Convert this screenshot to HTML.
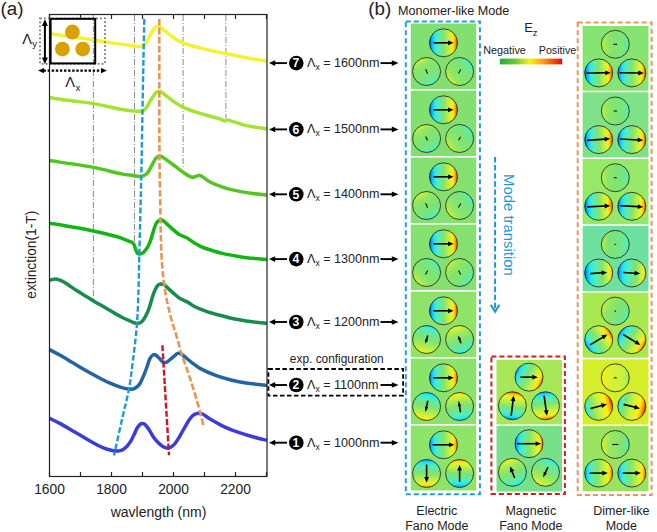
<!DOCTYPE html>
<html><head><meta charset="utf-8"><style>
html,body{margin:0;padding:0;background:#fff;}
svg{display:block;}
text{font-family:"Liberation Sans", sans-serif;}
</style></head><body>
<svg width="657" height="532" viewBox="0 0 657 532">
<defs><linearGradient id="g1" gradientUnits="userSpaceOnUse" x1="429.50" y1="42.80" x2="457.50" y2="42.80"><stop offset="0.000" stop-color="#003ce6"/><stop offset="0.062" stop-color="#0098ff"/><stop offset="0.125" stop-color="#0ecffc"/><stop offset="0.188" stop-color="#23e9eb"/><stop offset="0.250" stop-color="#3feccf"/><stop offset="0.312" stop-color="#54edb7"/><stop offset="0.375" stop-color="#64ea9e"/><stop offset="0.438" stop-color="#72e787"/><stop offset="0.500" stop-color="#80e470"/><stop offset="0.562" stop-color="#95e861"/><stop offset="0.625" stop-color="#abec51"/><stop offset="0.688" stop-color="#c2f140"/><stop offset="0.750" stop-color="#d8f130"/><stop offset="0.812" stop-color="#f2f01e"/><stop offset="0.875" stop-color="#ffd30d"/><stop offset="0.938" stop-color="#f68f00"/><stop offset="1.000" stop-color="#cd3c00"/></linearGradient>
<linearGradient id="g2" gradientUnits="userSpaceOnUse" x1="433.60" y1="83.62" x2="419.60" y2="59.38"><stop offset="0.000" stop-color="#3feccf"/><stop offset="0.062" stop-color="#57edb3"/><stop offset="0.125" stop-color="#65ea9d"/><stop offset="0.188" stop-color="#6ee88d"/><stop offset="0.250" stop-color="#74e683"/><stop offset="0.312" stop-color="#78e67d"/><stop offset="0.375" stop-color="#7be578"/><stop offset="0.438" stop-color="#7ee474"/><stop offset="0.500" stop-color="#80e470"/><stop offset="0.562" stop-color="#83e56d"/><stop offset="0.625" stop-color="#87e56b"/><stop offset="0.688" stop-color="#8ce668"/><stop offset="0.750" stop-color="#92e763"/><stop offset="0.812" stop-color="#9be95c"/><stop offset="0.875" stop-color="#a9ec52"/><stop offset="0.938" stop-color="#bef043"/><stop offset="1.000" stop-color="#d7f131"/></linearGradient>
<linearGradient id="g3" gradientUnits="userSpaceOnUse" x1="471.07" y1="63.47" x2="448.13" y2="79.53"><stop offset="0.000" stop-color="#3feccf"/><stop offset="0.062" stop-color="#57edb3"/><stop offset="0.125" stop-color="#65ea9d"/><stop offset="0.188" stop-color="#6ee88d"/><stop offset="0.250" stop-color="#74e683"/><stop offset="0.312" stop-color="#78e67d"/><stop offset="0.375" stop-color="#7be578"/><stop offset="0.438" stop-color="#7ee474"/><stop offset="0.500" stop-color="#80e470"/><stop offset="0.562" stop-color="#83e56d"/><stop offset="0.625" stop-color="#87e56b"/><stop offset="0.688" stop-color="#8ce668"/><stop offset="0.750" stop-color="#92e763"/><stop offset="0.812" stop-color="#9be95c"/><stop offset="0.875" stop-color="#a9ec52"/><stop offset="0.938" stop-color="#bef043"/><stop offset="1.000" stop-color="#d7f131"/></linearGradient>
<linearGradient id="g4" gradientUnits="userSpaceOnUse" x1="429.50" y1="109.80" x2="457.50" y2="109.80"><stop offset="0.000" stop-color="#003ce6"/><stop offset="0.062" stop-color="#0098ff"/><stop offset="0.125" stop-color="#0ecffc"/><stop offset="0.188" stop-color="#23e9eb"/><stop offset="0.250" stop-color="#3feccf"/><stop offset="0.312" stop-color="#54edb7"/><stop offset="0.375" stop-color="#64ea9e"/><stop offset="0.438" stop-color="#72e787"/><stop offset="0.500" stop-color="#80e470"/><stop offset="0.562" stop-color="#95e861"/><stop offset="0.625" stop-color="#abec51"/><stop offset="0.688" stop-color="#c2f140"/><stop offset="0.750" stop-color="#d8f130"/><stop offset="0.812" stop-color="#f2f01e"/><stop offset="0.875" stop-color="#ffd30d"/><stop offset="0.938" stop-color="#f68f00"/><stop offset="1.000" stop-color="#cd3c00"/></linearGradient>
<linearGradient id="g5" gradientUnits="userSpaceOnUse" x1="433.60" y1="150.62" x2="419.60" y2="126.38"><stop offset="0.000" stop-color="#44edca"/><stop offset="0.062" stop-color="#59ecaf"/><stop offset="0.125" stop-color="#66e99a"/><stop offset="0.188" stop-color="#6fe88c"/><stop offset="0.250" stop-color="#75e682"/><stop offset="0.312" stop-color="#79e67c"/><stop offset="0.375" stop-color="#7ce577"/><stop offset="0.438" stop-color="#7ee474"/><stop offset="0.500" stop-color="#80e470"/><stop offset="0.562" stop-color="#83e56e"/><stop offset="0.625" stop-color="#87e56b"/><stop offset="0.688" stop-color="#8be668"/><stop offset="0.750" stop-color="#91e764"/><stop offset="0.812" stop-color="#99e95e"/><stop offset="0.875" stop-color="#a7ec54"/><stop offset="0.938" stop-color="#baef46"/><stop offset="1.000" stop-color="#d3f234"/></linearGradient>
<linearGradient id="g6" gradientUnits="userSpaceOnUse" x1="471.07" y1="130.47" x2="448.13" y2="146.53"><stop offset="0.000" stop-color="#44edca"/><stop offset="0.062" stop-color="#59ecaf"/><stop offset="0.125" stop-color="#66e99a"/><stop offset="0.188" stop-color="#6fe88c"/><stop offset="0.250" stop-color="#75e682"/><stop offset="0.312" stop-color="#79e67c"/><stop offset="0.375" stop-color="#7ce577"/><stop offset="0.438" stop-color="#7ee474"/><stop offset="0.500" stop-color="#80e470"/><stop offset="0.562" stop-color="#83e56e"/><stop offset="0.625" stop-color="#87e56b"/><stop offset="0.688" stop-color="#8be668"/><stop offset="0.750" stop-color="#91e764"/><stop offset="0.812" stop-color="#99e95e"/><stop offset="0.875" stop-color="#a7ec54"/><stop offset="0.938" stop-color="#baef46"/><stop offset="1.000" stop-color="#d3f234"/></linearGradient>
<linearGradient id="g7" gradientUnits="userSpaceOnUse" x1="429.50" y1="176.80" x2="457.50" y2="176.80"><stop offset="0.000" stop-color="#003ce6"/><stop offset="0.062" stop-color="#0098ff"/><stop offset="0.125" stop-color="#0ecffc"/><stop offset="0.188" stop-color="#23e9eb"/><stop offset="0.250" stop-color="#3feccf"/><stop offset="0.312" stop-color="#54edb7"/><stop offset="0.375" stop-color="#64ea9e"/><stop offset="0.438" stop-color="#72e787"/><stop offset="0.500" stop-color="#80e470"/><stop offset="0.562" stop-color="#95e861"/><stop offset="0.625" stop-color="#abec51"/><stop offset="0.688" stop-color="#c2f140"/><stop offset="0.750" stop-color="#d8f130"/><stop offset="0.812" stop-color="#f2f01e"/><stop offset="0.875" stop-color="#ffd30d"/><stop offset="0.938" stop-color="#f68f00"/><stop offset="1.000" stop-color="#cd3c00"/></linearGradient>
<linearGradient id="g8" gradientUnits="userSpaceOnUse" x1="433.60" y1="217.62" x2="419.60" y2="193.38"><stop offset="0.000" stop-color="#3feccf"/><stop offset="0.062" stop-color="#57edb3"/><stop offset="0.125" stop-color="#65ea9d"/><stop offset="0.188" stop-color="#6ee88d"/><stop offset="0.250" stop-color="#74e683"/><stop offset="0.312" stop-color="#78e67d"/><stop offset="0.375" stop-color="#7be578"/><stop offset="0.438" stop-color="#7ee474"/><stop offset="0.500" stop-color="#80e470"/><stop offset="0.562" stop-color="#83e56d"/><stop offset="0.625" stop-color="#87e56b"/><stop offset="0.688" stop-color="#8ce668"/><stop offset="0.750" stop-color="#92e763"/><stop offset="0.812" stop-color="#9be95c"/><stop offset="0.875" stop-color="#a9ec52"/><stop offset="0.938" stop-color="#bef043"/><stop offset="1.000" stop-color="#d7f131"/></linearGradient>
<linearGradient id="g9" gradientUnits="userSpaceOnUse" x1="471.07" y1="197.47" x2="448.13" y2="213.53"><stop offset="0.000" stop-color="#3feccf"/><stop offset="0.062" stop-color="#57edb3"/><stop offset="0.125" stop-color="#65ea9d"/><stop offset="0.188" stop-color="#6ee88d"/><stop offset="0.250" stop-color="#74e683"/><stop offset="0.312" stop-color="#78e67d"/><stop offset="0.375" stop-color="#7be578"/><stop offset="0.438" stop-color="#7ee474"/><stop offset="0.500" stop-color="#80e470"/><stop offset="0.562" stop-color="#83e56d"/><stop offset="0.625" stop-color="#87e56b"/><stop offset="0.688" stop-color="#8ce668"/><stop offset="0.750" stop-color="#92e763"/><stop offset="0.812" stop-color="#9be95c"/><stop offset="0.875" stop-color="#a9ec52"/><stop offset="0.938" stop-color="#bef043"/><stop offset="1.000" stop-color="#d7f131"/></linearGradient>
<linearGradient id="g10" gradientUnits="userSpaceOnUse" x1="429.50" y1="243.80" x2="457.50" y2="243.80"><stop offset="0.000" stop-color="#003ce6"/><stop offset="0.062" stop-color="#0098ff"/><stop offset="0.125" stop-color="#0ecffc"/><stop offset="0.188" stop-color="#23e9eb"/><stop offset="0.250" stop-color="#3feccf"/><stop offset="0.312" stop-color="#54edb7"/><stop offset="0.375" stop-color="#64ea9e"/><stop offset="0.438" stop-color="#72e787"/><stop offset="0.500" stop-color="#80e470"/><stop offset="0.562" stop-color="#95e861"/><stop offset="0.625" stop-color="#abec51"/><stop offset="0.688" stop-color="#c2f140"/><stop offset="0.750" stop-color="#d8f130"/><stop offset="0.812" stop-color="#f2f01e"/><stop offset="0.875" stop-color="#ffd30d"/><stop offset="0.938" stop-color="#f68f00"/><stop offset="1.000" stop-color="#cd3c00"/></linearGradient>
<linearGradient id="g11" gradientUnits="userSpaceOnUse" x1="436.50" y1="262.60" x2="416.70" y2="282.40"><stop offset="0.000" stop-color="#3feccf"/><stop offset="0.062" stop-color="#57edb3"/><stop offset="0.125" stop-color="#65ea9d"/><stop offset="0.188" stop-color="#6ee88d"/><stop offset="0.250" stop-color="#74e683"/><stop offset="0.312" stop-color="#78e67d"/><stop offset="0.375" stop-color="#7be578"/><stop offset="0.438" stop-color="#7ee474"/><stop offset="0.500" stop-color="#80e470"/><stop offset="0.562" stop-color="#83e56d"/><stop offset="0.625" stop-color="#87e56b"/><stop offset="0.688" stop-color="#8ce668"/><stop offset="0.750" stop-color="#92e763"/><stop offset="0.812" stop-color="#9be95c"/><stop offset="0.875" stop-color="#a9ec52"/><stop offset="0.938" stop-color="#bef043"/><stop offset="1.000" stop-color="#d7f131"/></linearGradient>
<linearGradient id="g12" gradientUnits="userSpaceOnUse" x1="470.32" y1="281.50" x2="448.88" y2="263.50"><stop offset="0.000" stop-color="#3feccf"/><stop offset="0.062" stop-color="#57edb3"/><stop offset="0.125" stop-color="#65ea9d"/><stop offset="0.188" stop-color="#6ee88d"/><stop offset="0.250" stop-color="#74e683"/><stop offset="0.312" stop-color="#78e67d"/><stop offset="0.375" stop-color="#7be578"/><stop offset="0.438" stop-color="#7ee474"/><stop offset="0.500" stop-color="#80e470"/><stop offset="0.562" stop-color="#83e56d"/><stop offset="0.625" stop-color="#87e56b"/><stop offset="0.688" stop-color="#8ce668"/><stop offset="0.750" stop-color="#92e763"/><stop offset="0.812" stop-color="#9be95c"/><stop offset="0.875" stop-color="#a9ec52"/><stop offset="0.938" stop-color="#bef043"/><stop offset="1.000" stop-color="#d7f131"/></linearGradient>
<linearGradient id="g13" gradientUnits="userSpaceOnUse" x1="429.50" y1="310.80" x2="457.50" y2="310.80"><stop offset="0.000" stop-color="#003ce6"/><stop offset="0.062" stop-color="#029ffe"/><stop offset="0.125" stop-color="#0fd4fb"/><stop offset="0.188" stop-color="#26eae8"/><stop offset="0.250" stop-color="#41edcd"/><stop offset="0.312" stop-color="#55edb5"/><stop offset="0.375" stop-color="#64ea9d"/><stop offset="0.438" stop-color="#72e786"/><stop offset="0.500" stop-color="#80e470"/><stop offset="0.562" stop-color="#94e861"/><stop offset="0.625" stop-color="#a9ec52"/><stop offset="0.688" stop-color="#c0f042"/><stop offset="0.750" stop-color="#d6f232"/><stop offset="0.812" stop-color="#eef120"/><stop offset="0.875" stop-color="#ffd90e"/><stop offset="0.938" stop-color="#fb9900"/><stop offset="1.000" stop-color="#cd3c00"/></linearGradient>
<linearGradient id="g14" gradientUnits="userSpaceOnUse" x1="430.46" y1="326.04" x2="422.74" y2="352.96"><stop offset="0.000" stop-color="#14e8fa"/><stop offset="0.062" stop-color="#33ebdb"/><stop offset="0.125" stop-color="#49edc5"/><stop offset="0.188" stop-color="#58ecb0"/><stop offset="0.250" stop-color="#63ea9f"/><stop offset="0.312" stop-color="#6be892"/><stop offset="0.375" stop-color="#73e786"/><stop offset="0.438" stop-color="#79e57b"/><stop offset="0.500" stop-color="#80e470"/><stop offset="0.562" stop-color="#8ae669"/><stop offset="0.625" stop-color="#94e862"/><stop offset="0.688" stop-color="#9fea5a"/><stop offset="0.750" stop-color="#acec50"/><stop offset="0.812" stop-color="#bbf045"/><stop offset="0.875" stop-color="#cef238"/><stop offset="0.938" stop-color="#e3f128"/><stop offset="1.000" stop-color="#fff014"/></linearGradient>
<linearGradient id="g15" gradientUnits="userSpaceOnUse" x1="464.39" y1="352.66" x2="454.81" y2="326.34"><stop offset="0.000" stop-color="#20e9ee"/><stop offset="0.062" stop-color="#3cecd2"/><stop offset="0.125" stop-color="#50eebe"/><stop offset="0.188" stop-color="#5cebaa"/><stop offset="0.250" stop-color="#66e99b"/><stop offset="0.312" stop-color="#6de88e"/><stop offset="0.375" stop-color="#74e784"/><stop offset="0.438" stop-color="#7ae57a"/><stop offset="0.500" stop-color="#80e470"/><stop offset="0.562" stop-color="#89e66a"/><stop offset="0.625" stop-color="#92e863"/><stop offset="0.688" stop-color="#9ce95c"/><stop offset="0.750" stop-color="#a7ec54"/><stop offset="0.812" stop-color="#b5ee49"/><stop offset="0.875" stop-color="#c8f23c"/><stop offset="0.938" stop-color="#dbf12e"/><stop offset="1.000" stop-color="#f4f01c"/></linearGradient>
<linearGradient id="g16" gradientUnits="userSpaceOnUse" x1="429.50" y1="377.80" x2="457.50" y2="377.80"><stop offset="0.000" stop-color="#0042e8"/><stop offset="0.062" stop-color="#04a8fe"/><stop offset="0.125" stop-color="#11dbfb"/><stop offset="0.188" stop-color="#2aeae4"/><stop offset="0.250" stop-color="#44edca"/><stop offset="0.312" stop-color="#57ecb2"/><stop offset="0.375" stop-color="#66e99b"/><stop offset="0.438" stop-color="#73e785"/><stop offset="0.500" stop-color="#80e470"/><stop offset="0.562" stop-color="#94e862"/><stop offset="0.625" stop-color="#a8ec53"/><stop offset="0.688" stop-color="#bdf044"/><stop offset="0.750" stop-color="#d3f234"/><stop offset="0.812" stop-color="#eaf123"/><stop offset="0.875" stop-color="#ffe110"/><stop offset="0.938" stop-color="#ffa501"/><stop offset="1.000" stop-color="#d04200"/></linearGradient>
<linearGradient id="g17" gradientUnits="userSpaceOnUse" x1="429.51" y1="392.81" x2="423.69" y2="420.19"><stop offset="0.000" stop-color="#09b9fd"/><stop offset="0.062" stop-color="#14e8fa"/><stop offset="0.125" stop-color="#33ebdb"/><stop offset="0.188" stop-color="#49edc5"/><stop offset="0.250" stop-color="#59ecb0"/><stop offset="0.312" stop-color="#64ea9d"/><stop offset="0.375" stop-color="#6ee88d"/><stop offset="0.438" stop-color="#77e67e"/><stop offset="0.500" stop-color="#80e470"/><stop offset="0.562" stop-color="#8de766"/><stop offset="0.625" stop-color="#9be95d"/><stop offset="0.688" stop-color="#aaec52"/><stop offset="0.750" stop-color="#bbef46"/><stop offset="0.812" stop-color="#cef238"/><stop offset="0.875" stop-color="#e3f128"/><stop offset="0.938" stop-color="#fff014"/><stop offset="1.000" stop-color="#ffb906"/></linearGradient>
<linearGradient id="g18" gradientUnits="userSpaceOnUse" x1="461.79" y1="420.33" x2="457.41" y2="392.67"><stop offset="0.000" stop-color="#0cc8fc"/><stop offset="0.062" stop-color="#1ee9f0"/><stop offset="0.125" stop-color="#3aecd4"/><stop offset="0.188" stop-color="#4feebf"/><stop offset="0.250" stop-color="#5cebaa"/><stop offset="0.312" stop-color="#67e999"/><stop offset="0.375" stop-color="#70e78b"/><stop offset="0.438" stop-color="#78e67d"/><stop offset="0.500" stop-color="#80e470"/><stop offset="0.562" stop-color="#8ce667"/><stop offset="0.625" stop-color="#99e95e"/><stop offset="0.688" stop-color="#a6eb54"/><stop offset="0.750" stop-color="#b6ee49"/><stop offset="0.812" stop-color="#c9f23b"/><stop offset="0.875" stop-color="#dcf12d"/><stop offset="0.938" stop-color="#f6f01b"/><stop offset="1.000" stop-color="#ffcb0b"/></linearGradient>
<linearGradient id="g19" gradientUnits="userSpaceOnUse" x1="429.50" y1="444.80" x2="457.50" y2="444.80"><stop offset="0.000" stop-color="#0052ec"/><stop offset="0.062" stop-color="#06affd"/><stop offset="0.125" stop-color="#12e0fa"/><stop offset="0.188" stop-color="#2eebe0"/><stop offset="0.250" stop-color="#47edc7"/><stop offset="0.312" stop-color="#59ecb0"/><stop offset="0.375" stop-color="#67e999"/><stop offset="0.438" stop-color="#73e784"/><stop offset="0.500" stop-color="#80e470"/><stop offset="0.562" stop-color="#93e862"/><stop offset="0.625" stop-color="#a6eb54"/><stop offset="0.688" stop-color="#bbef45"/><stop offset="0.750" stop-color="#d0f236"/><stop offset="0.812" stop-color="#e7f125"/><stop offset="0.875" stop-color="#ffe712"/><stop offset="0.938" stop-color="#ffad03"/><stop offset="1.000" stop-color="#d74f00"/></linearGradient>
<linearGradient id="g20" gradientUnits="userSpaceOnUse" x1="426.60" y1="459.50" x2="426.60" y2="487.50"><stop offset="0.000" stop-color="#0093fe"/><stop offset="0.062" stop-color="#0dccfc"/><stop offset="0.125" stop-color="#21e9ed"/><stop offset="0.188" stop-color="#3cecd2"/><stop offset="0.250" stop-color="#51eebc"/><stop offset="0.312" stop-color="#5feba6"/><stop offset="0.375" stop-color="#6ae893"/><stop offset="0.438" stop-color="#75e681"/><stop offset="0.500" stop-color="#80e470"/><stop offset="0.562" stop-color="#90e764"/><stop offset="0.625" stop-color="#a0ea59"/><stop offset="0.688" stop-color="#b2ee4c"/><stop offset="0.750" stop-color="#c6f23d"/><stop offset="0.812" stop-color="#daf12f"/><stop offset="0.875" stop-color="#f3f01c"/><stop offset="0.938" stop-color="#ffd00c"/><stop offset="1.000" stop-color="#f48900"/></linearGradient>
<linearGradient id="g21" gradientUnits="userSpaceOnUse" x1="459.60" y1="487.50" x2="459.60" y2="459.50"><stop offset="0.000" stop-color="#0093fe"/><stop offset="0.062" stop-color="#0dccfc"/><stop offset="0.125" stop-color="#21e9ed"/><stop offset="0.188" stop-color="#3cecd2"/><stop offset="0.250" stop-color="#51eebc"/><stop offset="0.312" stop-color="#5feba6"/><stop offset="0.375" stop-color="#6ae893"/><stop offset="0.438" stop-color="#75e681"/><stop offset="0.500" stop-color="#80e470"/><stop offset="0.562" stop-color="#90e764"/><stop offset="0.625" stop-color="#a0ea59"/><stop offset="0.688" stop-color="#b2ee4c"/><stop offset="0.750" stop-color="#c6f23d"/><stop offset="0.812" stop-color="#daf12f"/><stop offset="0.875" stop-color="#f3f01c"/><stop offset="0.938" stop-color="#ffd00c"/><stop offset="1.000" stop-color="#f48900"/></linearGradient>
<linearGradient id="g22" gradientUnits="userSpaceOnUse" x1="629.30" y1="44.30" x2="601.30" y2="44.30"><stop offset="0.000" stop-color="#50eebe"/><stop offset="0.062" stop-color="#60eba4"/><stop offset="0.125" stop-color="#6be893"/><stop offset="0.188" stop-color="#72e787"/><stop offset="0.250" stop-color="#77e67f"/><stop offset="0.312" stop-color="#7ae57a"/><stop offset="0.375" stop-color="#7ce576"/><stop offset="0.438" stop-color="#7ee473"/><stop offset="0.500" stop-color="#80e470"/><stop offset="0.562" stop-color="#83e56e"/><stop offset="0.625" stop-color="#86e56c"/><stop offset="0.688" stop-color="#89e669"/><stop offset="0.750" stop-color="#8ee766"/><stop offset="0.812" stop-color="#95e861"/><stop offset="0.875" stop-color="#a0ea59"/><stop offset="0.938" stop-color="#b0ed4d"/><stop offset="1.000" stop-color="#c8f23c"/></linearGradient>
<linearGradient id="g23" gradientUnits="userSpaceOnUse" x1="584.70" y1="73.14" x2="612.70" y2="72.66"><stop offset="0.000" stop-color="#003ce6"/><stop offset="0.062" stop-color="#0098ff"/><stop offset="0.125" stop-color="#0ecffc"/><stop offset="0.188" stop-color="#23e9eb"/><stop offset="0.250" stop-color="#3feccf"/><stop offset="0.312" stop-color="#54edb7"/><stop offset="0.375" stop-color="#64ea9e"/><stop offset="0.438" stop-color="#72e787"/><stop offset="0.500" stop-color="#80e470"/><stop offset="0.562" stop-color="#95e861"/><stop offset="0.625" stop-color="#abec51"/><stop offset="0.688" stop-color="#c2f140"/><stop offset="0.750" stop-color="#d8f130"/><stop offset="0.812" stop-color="#f2f01e"/><stop offset="0.875" stop-color="#ffd30d"/><stop offset="0.938" stop-color="#f68f00"/><stop offset="1.000" stop-color="#cd3c00"/></linearGradient>
<linearGradient id="g24" gradientUnits="userSpaceOnUse" x1="617.80" y1="72.66" x2="645.80" y2="73.14"><stop offset="0.000" stop-color="#003ce6"/><stop offset="0.062" stop-color="#03a3fe"/><stop offset="0.125" stop-color="#10d8fb"/><stop offset="0.188" stop-color="#28eae6"/><stop offset="0.250" stop-color="#43edcb"/><stop offset="0.312" stop-color="#56edb4"/><stop offset="0.375" stop-color="#65ea9c"/><stop offset="0.438" stop-color="#73e786"/><stop offset="0.500" stop-color="#80e470"/><stop offset="0.562" stop-color="#94e862"/><stop offset="0.625" stop-color="#a8ec53"/><stop offset="0.688" stop-color="#bef043"/><stop offset="0.750" stop-color="#d4f233"/><stop offset="0.812" stop-color="#ecf121"/><stop offset="0.875" stop-color="#ffdd0f"/><stop offset="0.938" stop-color="#ffa000"/><stop offset="1.000" stop-color="#cd3c00"/></linearGradient>
<linearGradient id="g25" gradientUnits="userSpaceOnUse" x1="629.30" y1="111.00" x2="601.30" y2="111.00"><stop offset="0.000" stop-color="#50eebe"/><stop offset="0.062" stop-color="#60eba4"/><stop offset="0.125" stop-color="#6be893"/><stop offset="0.188" stop-color="#72e787"/><stop offset="0.250" stop-color="#77e67f"/><stop offset="0.312" stop-color="#7ae57a"/><stop offset="0.375" stop-color="#7ce576"/><stop offset="0.438" stop-color="#7ee473"/><stop offset="0.500" stop-color="#80e470"/><stop offset="0.562" stop-color="#83e56e"/><stop offset="0.625" stop-color="#86e56c"/><stop offset="0.688" stop-color="#89e669"/><stop offset="0.750" stop-color="#8ee766"/><stop offset="0.812" stop-color="#95e861"/><stop offset="0.875" stop-color="#a0ea59"/><stop offset="0.938" stop-color="#b0ed4d"/><stop offset="1.000" stop-color="#c8f23c"/></linearGradient>
<linearGradient id="g26" gradientUnits="userSpaceOnUse" x1="584.73" y1="140.58" x2="612.67" y2="138.62"><stop offset="0.000" stop-color="#003ce6"/><stop offset="0.062" stop-color="#0098ff"/><stop offset="0.125" stop-color="#0ecffc"/><stop offset="0.188" stop-color="#23e9eb"/><stop offset="0.250" stop-color="#3feccf"/><stop offset="0.312" stop-color="#54edb7"/><stop offset="0.375" stop-color="#64ea9e"/><stop offset="0.438" stop-color="#72e787"/><stop offset="0.500" stop-color="#80e470"/><stop offset="0.562" stop-color="#95e861"/><stop offset="0.625" stop-color="#abec51"/><stop offset="0.688" stop-color="#c2f140"/><stop offset="0.750" stop-color="#d8f130"/><stop offset="0.812" stop-color="#f2f01e"/><stop offset="0.875" stop-color="#ffd30d"/><stop offset="0.938" stop-color="#f68f00"/><stop offset="1.000" stop-color="#cd3c00"/></linearGradient>
<linearGradient id="g27" gradientUnits="userSpaceOnUse" x1="617.82" y1="138.87" x2="645.78" y2="140.33"><stop offset="0.000" stop-color="#003ce6"/><stop offset="0.062" stop-color="#03a3fe"/><stop offset="0.125" stop-color="#10d8fb"/><stop offset="0.188" stop-color="#28eae6"/><stop offset="0.250" stop-color="#43edcb"/><stop offset="0.312" stop-color="#56edb4"/><stop offset="0.375" stop-color="#65ea9c"/><stop offset="0.438" stop-color="#73e786"/><stop offset="0.500" stop-color="#80e470"/><stop offset="0.562" stop-color="#94e862"/><stop offset="0.625" stop-color="#a8ec53"/><stop offset="0.688" stop-color="#bef043"/><stop offset="0.750" stop-color="#d4f233"/><stop offset="0.812" stop-color="#ecf121"/><stop offset="0.875" stop-color="#ffdd0f"/><stop offset="0.938" stop-color="#ffa000"/><stop offset="1.000" stop-color="#cd3c00"/></linearGradient>
<linearGradient id="g28" gradientUnits="userSpaceOnUse" x1="629.30" y1="177.70" x2="601.30" y2="177.70"><stop offset="0.000" stop-color="#50eebe"/><stop offset="0.062" stop-color="#60eba4"/><stop offset="0.125" stop-color="#6be893"/><stop offset="0.188" stop-color="#72e787"/><stop offset="0.250" stop-color="#77e67f"/><stop offset="0.312" stop-color="#7ae57a"/><stop offset="0.375" stop-color="#7ce576"/><stop offset="0.438" stop-color="#7ee473"/><stop offset="0.500" stop-color="#80e470"/><stop offset="0.562" stop-color="#83e56e"/><stop offset="0.625" stop-color="#86e56c"/><stop offset="0.688" stop-color="#89e669"/><stop offset="0.750" stop-color="#8ee766"/><stop offset="0.812" stop-color="#95e861"/><stop offset="0.875" stop-color="#a0ea59"/><stop offset="0.938" stop-color="#b0ed4d"/><stop offset="1.000" stop-color="#c8f23c"/></linearGradient>
<linearGradient id="g29" gradientUnits="userSpaceOnUse" x1="584.72" y1="207.03" x2="612.68" y2="205.57"><stop offset="0.000" stop-color="#003ce6"/><stop offset="0.062" stop-color="#0098ff"/><stop offset="0.125" stop-color="#0ecffc"/><stop offset="0.188" stop-color="#23e9eb"/><stop offset="0.250" stop-color="#3feccf"/><stop offset="0.312" stop-color="#54edb7"/><stop offset="0.375" stop-color="#64ea9e"/><stop offset="0.438" stop-color="#72e787"/><stop offset="0.500" stop-color="#80e470"/><stop offset="0.562" stop-color="#95e861"/><stop offset="0.625" stop-color="#abec51"/><stop offset="0.688" stop-color="#c2f140"/><stop offset="0.750" stop-color="#d8f130"/><stop offset="0.812" stop-color="#f2f01e"/><stop offset="0.875" stop-color="#ffd30d"/><stop offset="0.938" stop-color="#f68f00"/><stop offset="1.000" stop-color="#cd3c00"/></linearGradient>
<linearGradient id="g30" gradientUnits="userSpaceOnUse" x1="617.82" y1="205.57" x2="645.78" y2="207.03"><stop offset="0.000" stop-color="#003ce6"/><stop offset="0.062" stop-color="#03a3fe"/><stop offset="0.125" stop-color="#10d8fb"/><stop offset="0.188" stop-color="#28eae6"/><stop offset="0.250" stop-color="#43edcb"/><stop offset="0.312" stop-color="#56edb4"/><stop offset="0.375" stop-color="#65ea9c"/><stop offset="0.438" stop-color="#73e786"/><stop offset="0.500" stop-color="#80e470"/><stop offset="0.562" stop-color="#94e862"/><stop offset="0.625" stop-color="#a8ec53"/><stop offset="0.688" stop-color="#bef043"/><stop offset="0.750" stop-color="#d4f233"/><stop offset="0.812" stop-color="#ecf121"/><stop offset="0.875" stop-color="#ffdd0f"/><stop offset="0.938" stop-color="#ffa000"/><stop offset="1.000" stop-color="#cd3c00"/></linearGradient>
<linearGradient id="g31" gradientUnits="userSpaceOnUse" x1="629.30" y1="244.40" x2="601.30" y2="244.40"><stop offset="0.000" stop-color="#38ecd6"/><stop offset="0.062" stop-color="#50eebe"/><stop offset="0.125" stop-color="#5deba9"/><stop offset="0.188" stop-color="#65ea9b"/><stop offset="0.250" stop-color="#6be892"/><stop offset="0.312" stop-color="#6fe88b"/><stop offset="0.375" stop-color="#72e787"/><stop offset="0.438" stop-color="#74e683"/><stop offset="0.500" stop-color="#76e680"/><stop offset="0.562" stop-color="#79e67c"/><stop offset="0.625" stop-color="#7be578"/><stop offset="0.688" stop-color="#7ee474"/><stop offset="0.750" stop-color="#82e46e"/><stop offset="0.812" stop-color="#8be668"/><stop offset="0.875" stop-color="#98e95f"/><stop offset="0.938" stop-color="#aced50"/><stop offset="1.000" stop-color="#c8f23c"/></linearGradient>
<linearGradient id="g32" gradientUnits="userSpaceOnUse" x1="584.73" y1="273.98" x2="612.67" y2="272.02"><stop offset="0.000" stop-color="#003ce6"/><stop offset="0.062" stop-color="#0199ff"/><stop offset="0.125" stop-color="#0cc8fc"/><stop offset="0.188" stop-color="#17e8f7"/><stop offset="0.250" stop-color="#2eebe0"/><stop offset="0.312" stop-color="#41eccd"/><stop offset="0.375" stop-color="#51eebc"/><stop offset="0.438" stop-color="#5deba9"/><stop offset="0.500" stop-color="#69e995"/><stop offset="0.562" stop-color="#75e682"/><stop offset="0.625" stop-color="#81e46f"/><stop offset="0.688" stop-color="#95e861"/><stop offset="0.750" stop-color="#acec50"/><stop offset="0.812" stop-color="#c8f23c"/><stop offset="0.875" stop-color="#e4f128"/><stop offset="0.938" stop-color="#ffe110"/><stop offset="1.000" stop-color="#fa9600"/></linearGradient>
<linearGradient id="g33" gradientUnits="userSpaceOnUse" x1="617.82" y1="272.27" x2="645.78" y2="273.73"><stop offset="0.000" stop-color="#004eeb"/><stop offset="0.062" stop-color="#04a5fe"/><stop offset="0.125" stop-color="#0ed0fb"/><stop offset="0.188" stop-color="#1ce9f2"/><stop offset="0.250" stop-color="#32ebdc"/><stop offset="0.312" stop-color="#44edca"/><stop offset="0.375" stop-color="#53edba"/><stop offset="0.438" stop-color="#5eeba7"/><stop offset="0.500" stop-color="#69e995"/><stop offset="0.562" stop-color="#74e683"/><stop offset="0.625" stop-color="#7fe471"/><stop offset="0.688" stop-color="#91e763"/><stop offset="0.750" stop-color="#a7ec54"/><stop offset="0.812" stop-color="#c1f141"/><stop offset="0.875" stop-color="#ddf12d"/><stop offset="0.938" stop-color="#ffee14"/><stop offset="1.000" stop-color="#ffaa02"/></linearGradient>
<linearGradient id="g34" gradientUnits="userSpaceOnUse" x1="627.42" y1="318.10" x2="603.18" y2="304.10"><stop offset="0.000" stop-color="#44edca"/><stop offset="0.062" stop-color="#59ecaf"/><stop offset="0.125" stop-color="#66e99a"/><stop offset="0.188" stop-color="#6fe88c"/><stop offset="0.250" stop-color="#75e682"/><stop offset="0.312" stop-color="#79e67c"/><stop offset="0.375" stop-color="#7ce577"/><stop offset="0.438" stop-color="#7ee474"/><stop offset="0.500" stop-color="#80e470"/><stop offset="0.562" stop-color="#83e56e"/><stop offset="0.625" stop-color="#87e56b"/><stop offset="0.688" stop-color="#8be668"/><stop offset="0.750" stop-color="#91e764"/><stop offset="0.812" stop-color="#99e95e"/><stop offset="0.875" stop-color="#a7ec54"/><stop offset="0.938" stop-color="#baef46"/><stop offset="1.000" stop-color="#d3f234"/></linearGradient>
<linearGradient id="g35" gradientUnits="userSpaceOnUse" x1="586.70" y1="346.91" x2="610.70" y2="332.49"><stop offset="0.000" stop-color="#0068f2"/><stop offset="0.062" stop-color="#09bcfd"/><stop offset="0.125" stop-color="#19e9f5"/><stop offset="0.188" stop-color="#3aecd4"/><stop offset="0.250" stop-color="#52eeba"/><stop offset="0.312" stop-color="#62eaa0"/><stop offset="0.375" stop-color="#70e78a"/><stop offset="0.438" stop-color="#7de575"/><stop offset="0.500" stop-color="#8ee766"/><stop offset="0.562" stop-color="#a1ea58"/><stop offset="0.625" stop-color="#b5ee4a"/><stop offset="0.688" stop-color="#c9f23b"/><stop offset="0.750" stop-color="#dbf12e"/><stop offset="0.812" stop-color="#f2f01d"/><stop offset="0.875" stop-color="#ffd70e"/><stop offset="0.938" stop-color="#fd9c00"/><stop offset="1.000" stop-color="#cd3c00"/></linearGradient>
<linearGradient id="g36" gradientUnits="userSpaceOnUse" x1="619.80" y1="332.49" x2="643.80" y2="346.91"><stop offset="0.000" stop-color="#0068f2"/><stop offset="0.062" stop-color="#09bcfd"/><stop offset="0.125" stop-color="#19e9f5"/><stop offset="0.188" stop-color="#3aecd4"/><stop offset="0.250" stop-color="#52eeba"/><stop offset="0.312" stop-color="#62eaa0"/><stop offset="0.375" stop-color="#70e78a"/><stop offset="0.438" stop-color="#7de575"/><stop offset="0.500" stop-color="#8ee766"/><stop offset="0.562" stop-color="#a1ea58"/><stop offset="0.625" stop-color="#b5ee4a"/><stop offset="0.688" stop-color="#c9f23b"/><stop offset="0.750" stop-color="#dbf12e"/><stop offset="0.812" stop-color="#f2f01d"/><stop offset="0.875" stop-color="#ffd70e"/><stop offset="0.938" stop-color="#fd9c00"/><stop offset="1.000" stop-color="#cd3c00"/></linearGradient>
<linearGradient id="g37" gradientUnits="userSpaceOnUse" x1="629.30" y1="377.80" x2="601.30" y2="377.80"><stop offset="0.000" stop-color="#8ee766"/><stop offset="0.062" stop-color="#a6eb55"/><stop offset="0.125" stop-color="#b6ef49"/><stop offset="0.188" stop-color="#c1f141"/><stop offset="0.250" stop-color="#c8f23c"/><stop offset="0.312" stop-color="#ccf239"/><stop offset="0.375" stop-color="#cff237"/><stop offset="0.438" stop-color="#d1f236"/><stop offset="0.500" stop-color="#d3f234"/><stop offset="0.562" stop-color="#d5f232"/><stop offset="0.625" stop-color="#d7f131"/><stop offset="0.688" stop-color="#daf12f"/><stop offset="0.750" stop-color="#def12c"/><stop offset="0.812" stop-color="#e3f128"/><stop offset="0.875" stop-color="#ecf122"/><stop offset="0.938" stop-color="#f8f019"/><stop offset="1.000" stop-color="#ffe010"/></linearGradient>
<linearGradient id="g38" gradientUnits="userSpaceOnUse" x1="585.12" y1="409.79" x2="612.28" y2="403.01"><stop offset="0.000" stop-color="#0ecffc"/><stop offset="0.062" stop-color="#32ebdc"/><stop offset="0.125" stop-color="#57edb3"/><stop offset="0.188" stop-color="#6de88e"/><stop offset="0.250" stop-color="#7fe471"/><stop offset="0.312" stop-color="#94e862"/><stop offset="0.375" stop-color="#a6eb54"/><stop offset="0.438" stop-color="#b7ef48"/><stop offset="0.500" stop-color="#c8f23c"/><stop offset="0.562" stop-color="#d5f233"/><stop offset="0.625" stop-color="#e2f129"/><stop offset="0.688" stop-color="#f0f11f"/><stop offset="0.750" stop-color="#ffef14"/><stop offset="0.812" stop-color="#ffd10c"/><stop offset="0.875" stop-color="#ffab03"/><stop offset="0.938" stop-color="#e66e00"/><stop offset="1.000" stop-color="#cd3c00"/></linearGradient>
<linearGradient id="g39" gradientUnits="userSpaceOnUse" x1="618.22" y1="403.01" x2="645.38" y2="409.79"><stop offset="0.000" stop-color="#0ecffc"/><stop offset="0.062" stop-color="#32ebdc"/><stop offset="0.125" stop-color="#57edb3"/><stop offset="0.188" stop-color="#6de88e"/><stop offset="0.250" stop-color="#7fe471"/><stop offset="0.312" stop-color="#94e862"/><stop offset="0.375" stop-color="#a6eb54"/><stop offset="0.438" stop-color="#b7ef48"/><stop offset="0.500" stop-color="#c8f23c"/><stop offset="0.562" stop-color="#d5f233"/><stop offset="0.625" stop-color="#e2f129"/><stop offset="0.688" stop-color="#f0f11f"/><stop offset="0.750" stop-color="#ffef14"/><stop offset="0.812" stop-color="#ffd10c"/><stop offset="0.875" stop-color="#ffab03"/><stop offset="0.938" stop-color="#e66e00"/><stop offset="1.000" stop-color="#cd3c00"/></linearGradient>
<linearGradient id="g40" gradientUnits="userSpaceOnUse" x1="629.30" y1="444.50" x2="601.30" y2="444.50"><stop offset="0.000" stop-color="#44edca"/><stop offset="0.062" stop-color="#5cebaa"/><stop offset="0.125" stop-color="#6ce891"/><stop offset="0.188" stop-color="#76e681"/><stop offset="0.250" stop-color="#7de576"/><stop offset="0.312" stop-color="#82e46f"/><stop offset="0.375" stop-color="#87e56b"/><stop offset="0.438" stop-color="#8be668"/><stop offset="0.500" stop-color="#8ee766"/><stop offset="0.562" stop-color="#92e863"/><stop offset="0.625" stop-color="#96e860"/><stop offset="0.688" stop-color="#9be95c"/><stop offset="0.750" stop-color="#a2eb57"/><stop offset="0.812" stop-color="#aced50"/><stop offset="0.875" stop-color="#bbf045"/><stop offset="0.938" stop-color="#d0f236"/><stop offset="1.000" stop-color="#e9f124"/></linearGradient>
<linearGradient id="g41" gradientUnits="userSpaceOnUse" x1="584.70" y1="473.10" x2="612.70" y2="473.10"><stop offset="0.000" stop-color="#0081f9"/><stop offset="0.062" stop-color="#0cc8fc"/><stop offset="0.125" stop-color="#21e9ed"/><stop offset="0.188" stop-color="#3feccf"/><stop offset="0.250" stop-color="#55edb5"/><stop offset="0.312" stop-color="#65ea9d"/><stop offset="0.375" stop-color="#72e787"/><stop offset="0.438" stop-color="#7ee474"/><stop offset="0.500" stop-color="#8ee766"/><stop offset="0.562" stop-color="#a0ea59"/><stop offset="0.625" stop-color="#b2ee4c"/><stop offset="0.688" stop-color="#c6f23e"/><stop offset="0.750" stop-color="#d8f131"/><stop offset="0.812" stop-color="#edf121"/><stop offset="0.875" stop-color="#ffe110"/><stop offset="0.938" stop-color="#ffaa03"/><stop offset="1.000" stop-color="#d85200"/></linearGradient>
<linearGradient id="g42" gradientUnits="userSpaceOnUse" x1="617.80" y1="473.10" x2="645.80" y2="473.10"><stop offset="0.000" stop-color="#0081f9"/><stop offset="0.062" stop-color="#0cc8fc"/><stop offset="0.125" stop-color="#21e9ed"/><stop offset="0.188" stop-color="#3feccf"/><stop offset="0.250" stop-color="#55edb5"/><stop offset="0.312" stop-color="#65ea9d"/><stop offset="0.375" stop-color="#72e787"/><stop offset="0.438" stop-color="#7ee474"/><stop offset="0.500" stop-color="#8ee766"/><stop offset="0.562" stop-color="#a0ea59"/><stop offset="0.625" stop-color="#b2ee4c"/><stop offset="0.688" stop-color="#c6f23e"/><stop offset="0.750" stop-color="#d8f131"/><stop offset="0.812" stop-color="#edf121"/><stop offset="0.875" stop-color="#ffe110"/><stop offset="0.938" stop-color="#ffaa03"/><stop offset="1.000" stop-color="#d85200"/></linearGradient>
<linearGradient id="g43" gradientUnits="userSpaceOnUse" x1="516.31" y1="371.23" x2="541.69" y2="383.07"><stop offset="0.000" stop-color="#0081f9"/><stop offset="0.062" stop-color="#0cc8fc"/><stop offset="0.125" stop-color="#21e9ed"/><stop offset="0.188" stop-color="#3feccf"/><stop offset="0.250" stop-color="#55edb5"/><stop offset="0.312" stop-color="#65ea9d"/><stop offset="0.375" stop-color="#72e787"/><stop offset="0.438" stop-color="#7ee474"/><stop offset="0.500" stop-color="#8ee766"/><stop offset="0.562" stop-color="#a0ea59"/><stop offset="0.625" stop-color="#b2ee4c"/><stop offset="0.688" stop-color="#c6f23e"/><stop offset="0.750" stop-color="#d8f131"/><stop offset="0.812" stop-color="#edf121"/><stop offset="0.875" stop-color="#ffe110"/><stop offset="0.938" stop-color="#ffaa03"/><stop offset="1.000" stop-color="#d85200"/></linearGradient>
<linearGradient id="g44" gradientUnits="userSpaceOnUse" x1="510.69" y1="419.65" x2="514.11" y2="391.85"><stop offset="0.000" stop-color="#0068f2"/><stop offset="0.062" stop-color="#09bcfd"/><stop offset="0.125" stop-color="#19e9f5"/><stop offset="0.188" stop-color="#3aecd4"/><stop offset="0.250" stop-color="#52eeba"/><stop offset="0.312" stop-color="#62eaa0"/><stop offset="0.375" stop-color="#70e78a"/><stop offset="0.438" stop-color="#7de575"/><stop offset="0.500" stop-color="#8ee766"/><stop offset="0.562" stop-color="#a1ea58"/><stop offset="0.625" stop-color="#b5ee4a"/><stop offset="0.688" stop-color="#c9f23b"/><stop offset="0.750" stop-color="#dbf12e"/><stop offset="0.812" stop-color="#f2f01d"/><stop offset="0.875" stop-color="#ffd70e"/><stop offset="0.938" stop-color="#fd9c00"/><stop offset="1.000" stop-color="#cd3c00"/></linearGradient>
<linearGradient id="g45" gradientUnits="userSpaceOnUse" x1="543.55" y1="391.89" x2="547.45" y2="419.61"><stop offset="0.000" stop-color="#0081f9"/><stop offset="0.062" stop-color="#0cc8fc"/><stop offset="0.125" stop-color="#21e9ed"/><stop offset="0.188" stop-color="#3feccf"/><stop offset="0.250" stop-color="#55edb5"/><stop offset="0.312" stop-color="#65ea9d"/><stop offset="0.375" stop-color="#72e787"/><stop offset="0.438" stop-color="#7ee474"/><stop offset="0.500" stop-color="#8ee766"/><stop offset="0.562" stop-color="#a0ea59"/><stop offset="0.625" stop-color="#b2ee4c"/><stop offset="0.688" stop-color="#c6f23e"/><stop offset="0.750" stop-color="#d8f131"/><stop offset="0.812" stop-color="#edf121"/><stop offset="0.875" stop-color="#ffe110"/><stop offset="0.938" stop-color="#ffaa03"/><stop offset="1.000" stop-color="#d85200"/></linearGradient>
<linearGradient id="g46" gradientUnits="userSpaceOnUse" x1="515.00" y1="443.70" x2="543.00" y2="443.70"><stop offset="0.000" stop-color="#0052ec"/><stop offset="0.062" stop-color="#06affd"/><stop offset="0.125" stop-color="#12e0fa"/><stop offset="0.188" stop-color="#2eebe0"/><stop offset="0.250" stop-color="#47edc7"/><stop offset="0.312" stop-color="#59ecb0"/><stop offset="0.375" stop-color="#67e999"/><stop offset="0.438" stop-color="#73e784"/><stop offset="0.500" stop-color="#80e470"/><stop offset="0.562" stop-color="#93e862"/><stop offset="0.625" stop-color="#a6eb54"/><stop offset="0.688" stop-color="#bbef45"/><stop offset="0.750" stop-color="#d0f236"/><stop offset="0.812" stop-color="#e7f125"/><stop offset="0.875" stop-color="#ffe712"/><stop offset="0.938" stop-color="#ffad03"/><stop offset="1.000" stop-color="#d74f00"/></linearGradient>
<linearGradient id="g47" gradientUnits="userSpaceOnUse" x1="517.64" y1="485.28" x2="507.16" y2="459.32"><stop offset="0.000" stop-color="#20e9ee"/><stop offset="0.062" stop-color="#3cecd2"/><stop offset="0.125" stop-color="#50eebe"/><stop offset="0.188" stop-color="#5cebaa"/><stop offset="0.250" stop-color="#66e99b"/><stop offset="0.312" stop-color="#6de88e"/><stop offset="0.375" stop-color="#74e784"/><stop offset="0.438" stop-color="#7ae57a"/><stop offset="0.500" stop-color="#80e470"/><stop offset="0.562" stop-color="#89e66a"/><stop offset="0.625" stop-color="#92e863"/><stop offset="0.688" stop-color="#9ce95c"/><stop offset="0.750" stop-color="#a7ec54"/><stop offset="0.812" stop-color="#b5ee49"/><stop offset="0.875" stop-color="#c8f23c"/><stop offset="0.938" stop-color="#dbf12e"/><stop offset="1.000" stop-color="#f4f01c"/></linearGradient>
<linearGradient id="g48" gradientUnits="userSpaceOnUse" x1="551.42" y1="459.61" x2="539.58" y2="484.99"><stop offset="0.000" stop-color="#20e9ee"/><stop offset="0.062" stop-color="#3cecd2"/><stop offset="0.125" stop-color="#50eebe"/><stop offset="0.188" stop-color="#5cebaa"/><stop offset="0.250" stop-color="#66e99b"/><stop offset="0.312" stop-color="#6de88e"/><stop offset="0.375" stop-color="#74e784"/><stop offset="0.438" stop-color="#7ae57a"/><stop offset="0.500" stop-color="#80e470"/><stop offset="0.562" stop-color="#89e66a"/><stop offset="0.625" stop-color="#92e863"/><stop offset="0.688" stop-color="#9ce95c"/><stop offset="0.750" stop-color="#a7ec54"/><stop offset="0.812" stop-color="#b5ee49"/><stop offset="0.875" stop-color="#c8f23c"/><stop offset="0.938" stop-color="#dbf12e"/><stop offset="1.000" stop-color="#f4f01c"/></linearGradient></defs>
<line x1="93.4" y1="15" x2="93.4" y2="300.0" stroke="#8c8c8c" stroke-width="1" stroke-dasharray="6,2,1,2"/>
<line x1="134.5" y1="15" x2="134.5" y2="245.0" stroke="#8c8c8c" stroke-width="1" stroke-dasharray="6,2,1,2"/>
<line x1="183.1" y1="15" x2="183.1" y2="169.0" stroke="#8c8c8c" stroke-width="1" stroke-dasharray="6,2,1,2"/>
<line x1="225.9" y1="15" x2="225.9" y2="118.0" stroke="#8c8c8c" stroke-width="1" stroke-dasharray="6,2,1,2"/>
<path d="M49.50,33.40 C52.17,33.83 60.75,35.27 65.50,36.00 C70.25,36.73 73.92,37.25 78.00,37.80 C82.08,38.35 85.72,38.63 90.00,39.30 C94.28,39.97 99.13,41.07 103.70,41.80 C108.27,42.53 112.83,43.07 117.40,43.70 C121.97,44.33 127.83,45.15 131.10,45.60 C134.37,46.05 135.27,46.32 137.00,46.40 C138.73,46.48 140.12,46.48 141.50,46.10 C142.88,45.72 144.27,45.13 145.30,44.10 C146.33,43.07 146.90,41.40 147.70,39.90 C148.50,38.40 149.30,36.62 150.10,35.10 C150.90,33.58 151.70,32.02 152.50,30.80 C153.30,29.58 154.10,28.50 154.90,27.80 C155.70,27.10 156.50,26.75 157.30,26.60 C158.10,26.45 158.70,26.40 159.70,26.90 C160.70,27.40 162.00,28.58 163.30,29.60 C164.60,30.62 166.05,31.85 167.50,33.00 C168.95,34.15 170.50,35.37 172.00,36.50 C173.50,37.63 174.73,38.75 176.50,39.80 C178.27,40.85 180.18,41.83 182.60,42.80 C185.02,43.77 187.78,44.67 191.00,45.60 C194.22,46.53 198.40,47.52 201.90,48.40 C205.40,49.28 208.10,50.05 212.00,50.90 C215.90,51.75 220.02,52.45 225.30,53.50 C230.58,54.55 236.75,55.90 243.70,57.20 C250.65,58.50 263.12,60.62 267.00,61.30" fill="none" stroke="#F4F232" stroke-width="3.5" stroke-linejoin="round" stroke-linecap="butt"/>
<path d="M49.50,97.60 C52.92,98.10 62.67,99.60 70.00,100.60 C77.33,101.60 85.17,102.17 93.50,103.60 C101.83,105.03 113.15,107.95 120.00,109.20 C126.85,110.45 130.95,110.78 134.60,111.10 C138.25,111.42 140.07,111.52 141.90,111.10 C143.73,110.68 144.18,110.33 145.60,108.60 C147.02,106.87 148.78,103.23 150.40,100.70 C152.02,98.17 153.97,94.98 155.30,93.40 C156.63,91.82 157.38,91.40 158.40,91.20 C159.42,91.00 159.68,91.12 161.40,92.20 C163.12,93.28 166.27,95.88 168.70,97.70 C171.13,99.52 173.57,101.48 176.00,103.10 C178.43,104.72 180.47,106.07 183.30,107.40 C186.13,108.73 190.22,110.12 193.00,111.10 C195.78,112.08 197.77,112.60 200.00,113.30 C202.23,114.00 203.43,114.47 206.40,115.30 C209.37,116.13 215.12,117.52 217.80,118.30 C220.48,119.08 221.40,119.57 222.50,120.00 C223.60,120.43 223.55,120.92 224.40,120.90 C225.25,120.88 225.83,119.68 227.60,119.90 C229.37,120.12 231.87,121.25 235.00,122.20 C238.13,123.15 241.07,124.48 246.40,125.60 C251.73,126.72 263.57,128.35 267.00,128.90" fill="none" stroke="#A3E334" stroke-width="3.5" stroke-linejoin="round" stroke-linecap="butt"/>
<path d="M49.50,160.60 C56.83,161.73 81.75,165.23 93.50,167.40 C105.25,169.57 113.15,172.22 120.00,173.60 C126.85,174.98 131.05,175.23 134.60,175.70 C138.15,176.17 139.27,176.75 141.30,176.40 C143.33,176.05 145.07,175.38 146.80,173.60 C148.53,171.82 150.28,168.13 151.70,165.70 C153.12,163.27 154.08,160.62 155.30,159.00 C156.52,157.38 157.78,156.30 159.00,156.00 C160.22,155.70 160.98,156.30 162.60,157.20 C164.22,158.10 166.47,159.78 168.70,161.40 C170.93,163.02 173.57,165.07 176.00,166.90 C178.43,168.73 181.27,170.95 183.30,172.40 C185.33,173.85 186.77,174.80 188.20,175.60 C189.63,176.40 190.68,177.03 191.90,177.20 C193.12,177.37 194.28,176.92 195.50,176.60 C196.72,176.28 197.98,175.23 199.20,175.30 C200.42,175.37 200.98,175.88 202.80,177.00 C204.62,178.12 207.05,180.40 210.10,182.00 C213.15,183.60 217.75,185.37 221.10,186.60 C224.45,187.83 226.93,188.57 230.20,189.40 C233.47,190.23 236.90,190.92 240.70,191.60 C244.50,192.28 248.62,192.93 253.00,193.50 C257.38,194.07 264.67,194.75 267.00,195.00" fill="none" stroke="#52C520" stroke-width="3.5" stroke-linejoin="round" stroke-linecap="butt"/>
<path d="M49.50,223.20 C52.80,223.75 61.97,225.20 69.30,226.50 C76.63,227.80 85.50,229.28 93.50,231.00 C101.50,232.72 111.55,235.15 117.30,236.80 C123.05,238.45 125.47,239.92 128.00,240.90 C130.53,241.88 131.45,241.95 132.50,242.70 C133.55,243.45 133.70,244.05 134.30,245.40 C134.90,246.75 135.50,249.45 136.10,250.80 C136.70,252.15 137.15,253.02 137.90,253.50 C138.65,253.98 139.55,254.00 140.60,253.70 C141.65,253.40 142.98,252.87 144.20,251.70 C145.42,250.53 146.77,248.80 147.90,246.70 C149.03,244.60 150.03,241.87 151.00,239.10 C151.97,236.33 152.87,232.67 153.70,230.10 C154.53,227.53 155.17,225.28 156.00,223.70 C156.83,222.12 157.80,221.27 158.70,220.60 C159.60,219.93 160.50,219.55 161.40,219.70 C162.30,219.85 162.90,220.53 164.10,221.50 C165.30,222.47 167.10,224.15 168.60,225.50 C170.10,226.85 171.53,228.23 173.10,229.60 C174.67,230.97 176.52,232.67 178.00,233.70 C179.48,234.73 180.42,235.03 182.00,235.80 C183.58,236.57 185.55,237.17 187.50,238.30 C189.45,239.43 191.53,241.27 193.70,242.60 C195.87,243.93 198.22,245.23 200.50,246.30 C202.78,247.37 203.97,247.87 207.40,249.00 C210.83,250.13 216.53,251.97 221.10,253.10 C225.67,254.23 230.23,255.00 234.80,255.80 C239.37,256.60 243.13,257.28 248.50,257.90 C253.87,258.52 263.92,259.23 267.00,259.50" fill="none" stroke="#14B414" stroke-width="3.5" stroke-linejoin="round" stroke-linecap="butt"/>
<path d="M49.50,280.20 C50.53,280.02 53.78,279.02 55.70,279.10 C57.62,279.18 59.23,279.95 61.00,280.70 C62.77,281.45 63.63,281.92 66.30,283.60 C68.97,285.28 73.45,288.53 77.00,290.80 C80.55,293.07 84.85,295.52 87.60,297.20 C90.35,298.88 90.83,299.30 93.50,300.90 C96.17,302.50 100.13,304.77 103.60,306.80 C107.07,308.83 111.18,311.32 114.30,313.10 C117.42,314.88 119.68,316.18 122.30,317.50 C124.92,318.82 128.03,320.13 130.00,321.00 C131.97,321.87 132.82,322.32 134.10,322.70 C135.38,323.08 136.48,323.42 137.70,323.30 C138.92,323.18 140.10,323.17 141.40,322.00 C142.70,320.83 144.22,318.62 145.50,316.30 C146.78,313.98 147.98,311.20 149.10,308.10 C150.22,305.00 151.25,300.63 152.20,297.70 C153.15,294.77 153.85,292.57 154.80,290.50 C155.75,288.43 156.87,286.37 157.90,285.30 C158.93,284.23 159.97,284.18 161.00,284.10 C162.03,284.02 162.90,284.08 164.10,284.80 C165.30,285.52 166.65,287.02 168.20,288.40 C169.75,289.78 171.50,291.47 173.40,293.10 C175.30,294.73 177.15,296.65 179.60,298.20 C182.05,299.75 185.53,300.97 188.10,302.40 C190.67,303.83 191.95,305.30 195.00,306.80 C198.05,308.30 202.60,310.07 206.40,311.40 C210.20,312.73 214.00,313.75 217.80,314.80 C221.60,315.85 225.38,316.83 229.20,317.70 C233.02,318.57 236.88,319.33 240.70,320.00 C244.52,320.67 247.72,321.15 252.10,321.70 C256.48,322.25 264.52,323.03 267.00,323.30" fill="none" stroke="#198C4B" stroke-width="3.5" stroke-linejoin="round" stroke-linecap="butt"/>
<path d="M49.50,349.60 C51.28,350.53 56.38,353.05 60.20,355.20 C64.02,357.35 68.35,360.07 72.40,362.50 C76.45,364.93 80.45,367.47 84.50,369.80 C88.55,372.13 92.63,374.37 96.70,376.50 C100.77,378.63 104.83,380.80 108.90,382.60 C112.97,384.40 117.58,386.22 121.10,387.30 C124.62,388.38 127.73,388.92 130.00,389.10 C132.27,389.28 133.13,389.18 134.70,388.40 C136.27,387.62 138.00,386.32 139.40,384.40 C140.80,382.48 141.93,379.55 143.10,376.90 C144.27,374.25 145.30,371.47 146.40,368.50 C147.50,365.53 148.60,361.37 149.70,359.10 C150.80,356.83 151.98,355.57 153.00,354.90 C154.02,354.23 154.78,354.57 155.80,355.10 C156.82,355.63 157.92,356.97 159.10,358.10 C160.28,359.23 161.72,361.18 162.90,361.90 C164.08,362.62 165.12,362.72 166.20,362.40 C167.28,362.08 168.13,361.00 169.40,360.00 C170.67,359.00 172.43,357.50 173.80,356.40 C175.17,355.30 176.33,353.78 177.60,353.40 C178.87,353.02 180.13,353.47 181.40,354.10 C182.67,354.73 183.30,355.67 185.20,357.20 C187.10,358.73 190.27,361.40 192.80,363.30 C195.33,365.20 196.58,366.58 200.40,368.60 C204.22,370.62 210.62,373.50 215.70,375.40 C220.78,377.30 225.83,378.72 230.90,380.00 C235.97,381.28 240.08,382.20 246.10,383.10 C252.12,384.00 263.52,385.02 267.00,385.40" fill="none" stroke="#2364A5" stroke-width="3.5" stroke-linejoin="round" stroke-linecap="butt"/>
<path d="M49.50,418.30 C51.28,419.18 56.38,421.53 60.20,423.60 C64.02,425.67 68.35,428.33 72.40,430.70 C76.45,433.07 80.45,435.47 84.50,437.80 C88.55,440.13 93.05,442.83 96.70,444.70 C100.35,446.57 103.43,447.97 106.40,449.00 C109.37,450.03 112.40,450.58 114.50,450.90 C116.60,451.22 117.50,451.18 119.00,450.90 C120.50,450.62 122.12,450.05 123.50,449.20 C124.88,448.35 126.03,447.23 127.30,445.80 C128.57,444.37 129.97,442.48 131.10,440.60 C132.23,438.72 133.10,436.57 134.10,434.50 C135.10,432.43 136.10,429.88 137.10,428.20 C138.10,426.52 139.23,425.20 140.10,424.40 C140.97,423.60 141.43,423.33 142.30,423.40 C143.17,423.47 144.02,423.50 145.30,424.80 C146.58,426.10 148.65,429.15 150.00,431.20 C151.35,433.25 152.27,435.42 153.40,437.10 C154.53,438.78 155.53,439.97 156.80,441.30 C158.07,442.63 159.60,444.05 161.00,445.10 C162.40,446.15 163.93,447.10 165.20,447.60 C166.47,448.10 167.47,448.30 168.60,448.10 C169.73,447.90 170.87,447.25 172.00,446.40 C173.13,445.55 174.27,444.42 175.40,443.00 C176.53,441.58 177.68,439.73 178.80,437.90 C179.92,436.07 180.98,433.97 182.10,432.00 C183.22,430.03 184.37,428.07 185.50,426.10 C186.63,424.13 187.77,421.90 188.90,420.20 C190.03,418.50 191.17,416.97 192.30,415.90 C193.43,414.83 194.57,414.22 195.70,413.80 C196.83,413.38 197.88,413.32 199.10,413.40 C200.32,413.48 201.25,413.42 203.00,414.30 C204.75,415.18 206.22,416.70 209.60,418.70 C212.98,420.70 218.48,424.02 223.30,426.30 C228.12,428.58 233.43,430.62 238.50,432.40 C243.57,434.18 248.95,435.65 253.70,437.00 C258.45,438.35 264.78,439.92 267.00,440.50" fill="none" stroke="#3C3CDC" stroke-width="3.5" stroke-linejoin="round" stroke-linecap="butt"/>
<path d="M144.30,19.00 C144.15,26.17 143.70,46.83 143.40,62.00 C143.10,77.17 142.85,91.00 142.50,110.00 C142.15,129.00 141.75,155.17 141.30,176.00 C140.85,196.83 140.15,221.00 139.80,235.00 C139.45,249.00 139.42,250.83 139.20,260.00 C138.98,269.17 138.88,279.17 138.50,290.00 C138.12,300.83 137.82,313.33 136.90,325.00 C135.98,336.67 134.33,349.28 133.00,360.00 C131.67,370.72 130.72,379.47 128.90,389.30 C127.08,399.13 124.58,407.97 122.10,419.00 C119.62,430.03 115.35,449.42 114.00,455.50" fill="none" stroke="#1C9AD6" stroke-width="2.4" stroke-dasharray="5.8,2.4"/>
<path d="M159.30,19.00 C159.30,32.50 159.27,76.50 159.30,100.00 C159.33,123.50 159.33,142.50 159.50,160.00 C159.67,177.50 160.08,192.50 160.30,205.00 C160.52,217.50 160.60,226.67 160.80,235.00 C161.00,243.33 161.22,249.17 161.50,255.00 C161.78,260.83 162.15,265.83 162.50,270.00 C162.85,274.17 163.10,276.13 163.60,280.00 C164.10,283.87 164.73,288.82 165.50,293.20 C166.27,297.58 167.22,301.92 168.20,306.30 C169.18,310.68 170.20,315.12 171.40,319.50 C172.60,323.88 174.08,328.22 175.40,332.60 C176.72,336.98 178.23,342.12 179.30,345.80 C180.37,349.48 179.98,349.22 181.80,354.70 C183.62,360.18 187.38,370.00 190.20,378.70 C193.02,387.40 196.48,399.10 198.70,406.90 C200.92,414.70 202.70,422.40 203.50,425.50" fill="none" stroke="#E69650" stroke-width="2.6" stroke-dasharray="6.5,2.5"/>
<path d="M162.40,345.30 C163.50,363.63 167.90,436.97 169.00,455.30" fill="none" stroke="#CC1424" stroke-width="2.4" stroke-dasharray="6,2.2"/>
<rect x="49.5" y="14.5" width="217.5" height="462" fill="none" stroke="#222" stroke-width="1.2"/>
<line x1="49.5" y1="476.5" x2="49.5" y2="472" stroke="#222" stroke-width="1.2"/>
<line x1="49.5" y1="14.5" x2="49.5" y2="19" stroke="#222" stroke-width="1.2"/>
<line x1="80.5" y1="476.5" x2="80.5" y2="472" stroke="#222" stroke-width="1.2"/>
<line x1="80.5" y1="14.5" x2="80.5" y2="19" stroke="#222" stroke-width="1.2"/>
<line x1="111.5" y1="476.5" x2="111.5" y2="472" stroke="#222" stroke-width="1.2"/>
<line x1="111.5" y1="14.5" x2="111.5" y2="19" stroke="#222" stroke-width="1.2"/>
<line x1="142.5" y1="476.5" x2="142.5" y2="472" stroke="#222" stroke-width="1.2"/>
<line x1="142.5" y1="14.5" x2="142.5" y2="19" stroke="#222" stroke-width="1.2"/>
<line x1="173.5" y1="476.5" x2="173.5" y2="472" stroke="#222" stroke-width="1.2"/>
<line x1="173.5" y1="14.5" x2="173.5" y2="19" stroke="#222" stroke-width="1.2"/>
<line x1="204.5" y1="476.5" x2="204.5" y2="472" stroke="#222" stroke-width="1.2"/>
<line x1="204.5" y1="14.5" x2="204.5" y2="19" stroke="#222" stroke-width="1.2"/>
<line x1="235.5" y1="476.5" x2="235.5" y2="472" stroke="#222" stroke-width="1.2"/>
<line x1="235.5" y1="14.5" x2="235.5" y2="19" stroke="#222" stroke-width="1.2"/>
<line x1="266.5" y1="476.5" x2="266.5" y2="472" stroke="#222" stroke-width="1.2"/>
<line x1="266.5" y1="14.5" x2="266.5" y2="19" stroke="#222" stroke-width="1.2"/>
<text x="49.5" y="494" font-size="13.8" text-anchor="middle" fill="#222">1600</text>
<text x="111.5" y="494" font-size="13.8" text-anchor="middle" fill="#222">1800</text>
<text x="173.5" y="494" font-size="13.8" text-anchor="middle" fill="#222">2000</text>
<text x="235.5" y="494" font-size="13.8" text-anchor="middle" fill="#222">2200</text>
<text x="158.5" y="516.8" font-size="14" text-anchor="middle" fill="#222">wavlength (nm)</text>
<text transform="translate(35.8,254.7) rotate(-90)" font-size="13.8" text-anchor="middle" fill="#222">extinction(1-T)</text>
<text x="0.6" y="15.4" font-size="18.8" fill="#222">(a)</text>
<rect x="40" y="18.3" width="65" height="45.5" fill="none" stroke="#7a7a7a" stroke-width="1.8" stroke-dasharray="1.8,2.2"/>
<rect x="50.6" y="18.8" width="44.6" height="44.6" fill="none" stroke="#000" stroke-width="2"/>
<circle cx="72.4" cy="32.0" r="7.4" fill="#D9A200"/>
<circle cx="62.4" cy="49.1" r="7.4" fill="#D9A200"/>
<circle cx="82.7" cy="49.1" r="7.4" fill="#D9A200"/>
<line x1="44.9" y1="24" x2="44.9" y2="59.5" stroke="#000" stroke-width="2"/>
<polygon points="44.9,19.3 41.9,26 47.9,26" fill="#000"/><polygon points="44.9,64.2 41.9,57.5 47.9,57.5" fill="#000"/>
<line x1="43.5" y1="70.6" x2="102" y2="70.6" stroke="#000" stroke-width="2.4" stroke-dasharray="2.4,1.7"/>
<polygon points="38,70.6 44,68 44,73.2" fill="#000"/><polygon points="107,70.6 101,68 101,73.2" fill="#000"/>
<text x="22.2" y="43.6" font-size="14.7" fill="#222">&#923;<tspan font-size="9.6" dy="3.5" dx="0.3">y</tspan></text>
<text x="65.3" y="87.3" font-size="14.7" fill="#222">&#923;<tspan font-size="9.8" dy="3.7" dx="0.4">x</tspan></text>
<line x1="274" y1="63.1" x2="287" y2="63.1" stroke="#000" stroke-width="1.9"/>
<polygon points="269.0,63.1 275.2,60.2 275.2,66.0" fill="#000"/>
<circle cx="296.3" cy="63.1" r="7.3" fill="#000"/>
<text x="295.8" y="67.4" font-size="12.2" font-weight="bold" text-anchor="middle" fill="#fff">7</text>
<text x="307.0" y="67.1" font-size="12.6" fill="#222">&#923;<tspan font-size="8.5" dy="2.8">x</tspan><tspan dy="-2.8"> = 1600nm</tspan></text>
<line x1="380.5" y1="63.1" x2="393" y2="63.1" stroke="#000" stroke-width="1.9"/>
<polygon points="398.5,63.1 391.8,60.3 391.8,65.9" fill="#000"/>
<line x1="274" y1="129.4" x2="287" y2="129.4" stroke="#000" stroke-width="1.9"/>
<polygon points="269.0,129.4 275.2,126.5 275.2,132.3" fill="#000"/>
<circle cx="296.3" cy="129.4" r="7.3" fill="#000"/>
<text x="295.8" y="133.7" font-size="12.2" font-weight="bold" text-anchor="middle" fill="#fff">6</text>
<text x="307.0" y="133.4" font-size="12.6" fill="#222">&#923;<tspan font-size="8.5" dy="2.8">x</tspan><tspan dy="-2.8"> = 1500nm</tspan></text>
<line x1="380.5" y1="129.4" x2="393" y2="129.4" stroke="#000" stroke-width="1.9"/>
<polygon points="398.5,129.4 391.8,126.6 391.8,132.2" fill="#000"/>
<line x1="274" y1="194.3" x2="287" y2="194.3" stroke="#000" stroke-width="1.9"/>
<polygon points="269.0,194.3 275.2,191.4 275.2,197.2" fill="#000"/>
<circle cx="296.3" cy="194.3" r="7.3" fill="#000"/>
<text x="295.8" y="198.6" font-size="12.2" font-weight="bold" text-anchor="middle" fill="#fff">5</text>
<text x="307.0" y="198.3" font-size="12.6" fill="#222">&#923;<tspan font-size="8.5" dy="2.8">x</tspan><tspan dy="-2.8"> = 1400nm</tspan></text>
<line x1="380.5" y1="194.3" x2="393" y2="194.3" stroke="#000" stroke-width="1.9"/>
<polygon points="398.5,194.3 391.8,191.5 391.8,197.1" fill="#000"/>
<line x1="274" y1="259.1" x2="287" y2="259.1" stroke="#000" stroke-width="1.9"/>
<polygon points="269.0,259.1 275.2,256.2 275.2,262.0" fill="#000"/>
<circle cx="296.3" cy="259.1" r="7.3" fill="#000"/>
<text x="295.8" y="263.4" font-size="12.2" font-weight="bold" text-anchor="middle" fill="#fff">4</text>
<text x="307.0" y="263.1" font-size="12.6" fill="#222">&#923;<tspan font-size="8.5" dy="2.8">x</tspan><tspan dy="-2.8"> = 1300nm</tspan></text>
<line x1="380.5" y1="259.1" x2="393" y2="259.1" stroke="#000" stroke-width="1.9"/>
<polygon points="398.5,259.1 391.8,256.3 391.8,261.9" fill="#000"/>
<line x1="274" y1="322.0" x2="287" y2="322.0" stroke="#000" stroke-width="1.9"/>
<polygon points="269.0,322.0 275.2,319.1 275.2,324.9" fill="#000"/>
<circle cx="296.3" cy="322.0" r="7.3" fill="#000"/>
<text x="295.8" y="326.3" font-size="12.2" font-weight="bold" text-anchor="middle" fill="#fff">3</text>
<text x="307.0" y="326.0" font-size="12.6" fill="#222">&#923;<tspan font-size="8.5" dy="2.8">x</tspan><tspan dy="-2.8"> = 1200nm</tspan></text>
<line x1="380.5" y1="322.0" x2="393" y2="322.0" stroke="#000" stroke-width="1.9"/>
<polygon points="398.5,322.0 391.8,319.2 391.8,324.8" fill="#000"/>
<line x1="274" y1="385.0" x2="287" y2="385.0" stroke="#000" stroke-width="1.9"/>
<polygon points="269.0,385.0 275.2,382.1 275.2,387.9" fill="#000"/>
<circle cx="296.3" cy="385.0" r="7.3" fill="#000"/>
<text x="295.8" y="389.3" font-size="12.2" font-weight="bold" text-anchor="middle" fill="#fff">2</text>
<text x="307.0" y="389.0" font-size="12.6" fill="#222">&#923;<tspan font-size="8.5" dy="2.8">x</tspan><tspan dy="-2.8"> = 1100nm</tspan></text>
<line x1="380.5" y1="385.0" x2="393" y2="385.0" stroke="#000" stroke-width="1.9"/>
<polygon points="398.5,385.0 391.8,382.2 391.8,387.8" fill="#000"/>
<line x1="274" y1="442.7" x2="287" y2="442.7" stroke="#000" stroke-width="1.9"/>
<polygon points="269.0,442.7 275.2,439.8 275.2,445.6" fill="#000"/>
<circle cx="296.3" cy="442.7" r="7.3" fill="#000"/>
<text x="295.8" y="447.0" font-size="12.2" font-weight="bold" text-anchor="middle" fill="#fff">1</text>
<text x="307.0" y="446.7" font-size="12.6" fill="#222">&#923;<tspan font-size="8.5" dy="2.8">x</tspan><tspan dy="-2.8"> = 1000nm</tspan></text>
<line x1="380.5" y1="442.7" x2="393" y2="442.7" stroke="#000" stroke-width="1.9"/>
<polygon points="398.5,442.7 391.8,439.9 391.8,445.5" fill="#000"/>
<text x="336.8" y="363.3" font-size="11.9" text-anchor="middle" fill="#222">exp. configuration</text>
<rect x="268.4" y="369" width="134.7" height="26.7" fill="none" stroke="#000" stroke-width="1.8" stroke-dasharray="4.5,2.5"/>
<text x="368.2" y="14.8" font-size="18.8" fill="#222">(b)</text>
<text x="398" y="14.6" font-size="12.6" fill="#222">Monomer-like Mode</text>
<text x="524.2" y="32.1" font-size="13" fill="#222">E<tspan font-size="9.5" dy="3.4">z</tspan></text>
<text x="483.2" y="53.7" font-size="10.8" fill="#222">Negative</text>
<text x="538.8" y="53.7" font-size="10.7" fill="#222">Positive</text>
<defs><linearGradient id="cbar"><stop offset="0" stop-color="#1aa84a"/><stop offset="0.25" stop-color="#70c830"/><stop offset="0.48" stop-color="#f8f410"/><stop offset="0.7" stop-color="#ff9a10"/><stop offset="1" stop-color="#e80a0a"/></linearGradient></defs>
<rect x="499.8" y="58.6" width="62.4" height="5.8" fill="url(#cbar)"/>
<line x1="495.1" y1="157" x2="495.1" y2="311" stroke="#1E96D2" stroke-width="2" stroke-dasharray="5.4,2.7"/>
<polyline points="490.8,304.8 495.1,311.8 499.4,304.8" fill="none" stroke="#1E96D2" stroke-width="2"/>
<text transform="translate(504.0,174) rotate(90)" font-size="14.9" fill="#1E96D2">Mode transition</text>
<rect x="410.80" y="23.50" width="65.40" height="65.50" fill="#82E070"/><circle cx="443.50" cy="42.80" r="14.00" fill="url(#g1)" stroke="#262616" stroke-width="0.85"/><line x1="433.42" y1="42.80" x2="448.58" y2="42.80" stroke="#000" stroke-width="1.6"/><polygon points="453.58,42.80 448.08,45.20 448.08,40.40" fill="#000"/><circle cx="426.60" cy="71.50" r="14.00" fill="url(#g2)" stroke="#262616" stroke-width="0.85"/><line x1="427.61" y1="73.66" x2="425.59" y2="69.34" stroke="#111" stroke-width="1.1"/><circle cx="459.60" cy="71.50" r="14.00" fill="url(#g3)" stroke="#262616" stroke-width="0.85"/><line x1="458.41" y1="73.56" x2="460.79" y2="69.44" stroke="#111" stroke-width="1.1"/>
<rect x="410.80" y="90.60" width="65.40" height="65.40" fill="#82E070"/><circle cx="443.50" cy="109.80" r="14.00" fill="url(#g4)" stroke="#262616" stroke-width="0.85"/><line x1="433.42" y1="109.80" x2="448.58" y2="109.80" stroke="#000" stroke-width="1.6"/><polygon points="453.58,109.80 448.08,112.20 448.08,107.40" fill="#000"/><circle cx="426.60" cy="138.50" r="14.00" fill="url(#g5)" stroke="#262616" stroke-width="0.85"/><line x1="427.49" y1="140.40" x2="425.71" y2="136.60" stroke="#111" stroke-width="1.1"/><circle cx="459.60" cy="138.50" r="14.00" fill="url(#g6)" stroke="#262616" stroke-width="0.85"/><line x1="458.55" y1="140.32" x2="460.65" y2="136.68" stroke="#111" stroke-width="1.1"/>
<rect x="410.80" y="157.60" width="65.40" height="65.40" fill="#84E070"/><circle cx="443.50" cy="176.80" r="14.00" fill="url(#g7)" stroke="#262616" stroke-width="0.85"/><line x1="433.42" y1="176.80" x2="448.58" y2="176.80" stroke="#000" stroke-width="1.6"/><polygon points="453.58,176.80 448.08,179.20 448.08,174.40" fill="#000"/><circle cx="426.60" cy="205.50" r="14.00" fill="url(#g8)" stroke="#262616" stroke-width="0.85"/><line x1="427.61" y1="207.66" x2="425.59" y2="203.34" stroke="#111" stroke-width="1.1"/><circle cx="459.60" cy="205.50" r="14.00" fill="url(#g9)" stroke="#262616" stroke-width="0.85"/><line x1="458.41" y1="207.56" x2="460.79" y2="203.44" stroke="#111" stroke-width="1.1"/>
<rect x="410.80" y="224.60" width="65.40" height="65.40" fill="#86E070"/><circle cx="443.50" cy="243.80" r="14.00" fill="url(#g10)" stroke="#262616" stroke-width="0.85"/><line x1="433.42" y1="243.80" x2="448.58" y2="243.80" stroke="#000" stroke-width="1.6"/><polygon points="453.58,243.80 448.08,246.20 448.08,241.40" fill="#000"/><circle cx="426.60" cy="272.50" r="14.00" fill="url(#g11)" stroke="#262616" stroke-width="0.85"/><line x1="425.48" y1="274.44" x2="427.72" y2="270.56" stroke="#111" stroke-width="1.1"/><circle cx="459.60" cy="272.50" r="14.00" fill="url(#g12)" stroke="#262616" stroke-width="0.85"/><line x1="460.72" y1="274.44" x2="458.48" y2="270.56" stroke="#111" stroke-width="1.1"/>
<rect x="410.80" y="291.60" width="65.40" height="65.40" fill="#8EE468"/><circle cx="443.50" cy="310.80" r="14.00" fill="url(#g13)" stroke="#262616" stroke-width="0.85"/><line x1="433.42" y1="310.80" x2="448.58" y2="310.80" stroke="#000" stroke-width="1.6"/><polygon points="453.58,310.80 448.08,313.20 448.08,308.40" fill="#000"/><circle cx="426.60" cy="339.50" r="14.00" fill="url(#g14)" stroke="#262616" stroke-width="0.85"/><line x1="427.76" y1="335.46" x2="426.46" y2="339.98" stroke="#000" stroke-width="1.6"/><polygon points="425.44,343.54 424.97,339.03 428.23,339.97" fill="#000"/><circle cx="459.60" cy="339.50" r="14.00" fill="url(#g15)" stroke="#262616" stroke-width="0.85"/><line x1="460.94" y1="343.18" x2="459.43" y2="339.03" stroke="#000" stroke-width="1.6"/><polygon points="458.26,335.82 461.20,338.92 458.00,340.08" fill="#000"/>
<rect x="410.80" y="358.60" width="65.40" height="65.40" fill="#8AE46C"/><circle cx="443.50" cy="377.80" r="14.00" fill="url(#g16)" stroke="#262616" stroke-width="0.85"/><line x1="433.14" y1="377.80" x2="448.86" y2="377.80" stroke="#000" stroke-width="1.6"/><polygon points="453.86,377.80 448.36,380.20 448.36,375.40" fill="#000"/><circle cx="426.60" cy="406.50" r="14.00" fill="url(#g17)" stroke="#262616" stroke-width="0.85"/><line x1="427.82" y1="400.75" x2="426.42" y2="407.36" stroke="#000" stroke-width="1.6"/><polygon points="425.38,412.25 424.86,406.52 428.18,407.23" fill="#000"/><circle cx="459.60" cy="406.50" r="14.00" fill="url(#g18)" stroke="#262616" stroke-width="0.85"/><line x1="460.52" y1="412.31" x2="459.46" y2="405.63" stroke="#000" stroke-width="1.6"/><polygon points="458.68,400.69 461.22,405.86 457.86,406.39" fill="#000"/>
<rect x="410.80" y="425.60" width="65.40" height="64.90" fill="#8EE468"/><circle cx="443.50" cy="444.80" r="14.00" fill="url(#g19)" stroke="#262616" stroke-width="0.85"/><line x1="432.58" y1="444.80" x2="449.42" y2="444.80" stroke="#000" stroke-width="1.6"/><polygon points="454.42,444.80 448.92,447.20 448.92,442.40" fill="#000"/><circle cx="426.60" cy="473.50" r="14.00" fill="url(#g20)" stroke="#262616" stroke-width="0.85"/><line x1="426.60" y1="464.54" x2="426.60" y2="477.46" stroke="#000" stroke-width="1.6"/><polygon points="426.60,482.46 424.20,476.96 429.00,476.96" fill="#000"/><circle cx="459.60" cy="473.50" r="14.00" fill="url(#g21)" stroke="#262616" stroke-width="0.85"/><line x1="459.60" y1="481.90" x2="459.60" y2="470.10" stroke="#000" stroke-width="1.6"/><polygon points="459.60,465.10 462.00,470.60 457.20,470.60" fill="#000"/>
<rect x="582.60" y="26.00" width="65.90" height="64.70" fill="#86E472"/><circle cx="615.30" cy="44.30" r="14.00" fill="url(#g22)" stroke="#262616" stroke-width="0.85"/><line x1="617.12" y1="44.30" x2="613.48" y2="44.30" stroke="#111" stroke-width="1.1"/><circle cx="598.70" cy="72.90" r="14.00" fill="url(#g23)" stroke="#262616" stroke-width="0.85"/><line x1="586.66" y1="73.11" x2="605.74" y2="72.78" stroke="#000" stroke-width="1.6"/><polygon points="610.74,72.69 605.28,75.19 605.20,70.39" fill="#000"/><circle cx="631.80" cy="72.90" r="14.00" fill="url(#g24)" stroke="#262616" stroke-width="0.85"/><line x1="619.76" y1="72.69" x2="638.84" y2="73.02" stroke="#000" stroke-width="1.6"/><polygon points="643.84,73.11 638.30,75.41 638.38,70.61" fill="#000"/>
<rect x="582.60" y="92.30" width="65.90" height="65.16" fill="#7EE288"/><circle cx="615.30" cy="111.00" r="14.00" fill="url(#g25)" stroke="#262616" stroke-width="0.85"/><line x1="616.98" y1="111.00" x2="613.62" y2="111.00" stroke="#111" stroke-width="1.1"/><circle cx="598.70" cy="139.60" r="14.00" fill="url(#g26)" stroke="#262616" stroke-width="0.85"/><line x1="587.25" y1="140.40" x2="605.16" y2="139.15" stroke="#000" stroke-width="1.6"/><polygon points="610.15,138.80 604.83,141.58 604.50,136.79" fill="#000"/><circle cx="631.80" cy="139.60" r="14.00" fill="url(#g27)" stroke="#262616" stroke-width="0.85"/><line x1="620.34" y1="139.00" x2="638.27" y2="139.94" stroke="#000" stroke-width="1.6"/><polygon points="643.26,140.20 637.65,142.31 637.90,137.52" fill="#000"/>
<rect x="582.60" y="159.06" width="65.90" height="65.16" fill="#96E868"/><circle cx="615.30" cy="177.70" r="14.00" fill="url(#g28)" stroke="#262616" stroke-width="0.85"/><line x1="616.70" y1="177.70" x2="613.90" y2="177.70" stroke="#111" stroke-width="1.1"/><circle cx="598.70" cy="206.30" r="14.00" fill="url(#g29)" stroke="#262616" stroke-width="0.85"/><line x1="587.24" y1="206.90" x2="605.17" y2="205.96" stroke="#000" stroke-width="1.6"/><polygon points="610.16,205.70 604.80,208.38 604.55,203.59" fill="#000"/><circle cx="631.80" cy="206.30" r="14.00" fill="url(#g30)" stroke="#262616" stroke-width="0.85"/><line x1="620.34" y1="205.70" x2="638.27" y2="206.64" stroke="#000" stroke-width="1.6"/><polygon points="643.26,206.90 637.65,209.01 637.90,204.22" fill="#000"/>
<rect x="582.60" y="225.82" width="65.90" height="65.16" fill="#6EE0A0"/><circle cx="615.30" cy="244.40" r="14.00" fill="url(#g31)" stroke="#262616" stroke-width="0.85"/><line x1="616.14" y1="244.40" x2="614.46" y2="244.40" stroke="#111" stroke-width="1.1"/><circle cx="598.70" cy="273.00" r="14.00" fill="url(#g32)" stroke="#262616" stroke-width="0.85"/><line x1="590.32" y1="273.59" x2="602.09" y2="272.76" stroke="#000" stroke-width="1.6"/><polygon points="607.08,272.41 601.76,275.19 601.43,270.40" fill="#000"/><circle cx="631.80" cy="273.00" r="14.00" fill="url(#g33)" stroke="#262616" stroke-width="0.85"/><line x1="623.41" y1="272.56" x2="635.20" y2="273.18" stroke="#000" stroke-width="1.6"/><polygon points="640.19,273.44 634.57,275.55 634.82,270.76" fill="#000"/>
<rect x="582.60" y="292.58" width="65.90" height="65.16" fill="#A8E850"/><circle cx="615.30" cy="311.10" r="14.00" fill="url(#g34)" stroke="#262616" stroke-width="0.85"/><line x1="615.91" y1="311.45" x2="614.69" y2="310.75" stroke="#111" stroke-width="1.1"/><circle cx="598.70" cy="339.70" r="14.00" fill="url(#g35)" stroke="#262616" stroke-width="0.85"/><line x1="590.06" y1="344.89" x2="603.05" y2="337.08" stroke="#000" stroke-width="1.6"/><polygon points="607.34,334.51 603.86,339.40 601.39,335.28" fill="#000"/><circle cx="631.80" cy="339.70" r="14.00" fill="url(#g36)" stroke="#262616" stroke-width="0.85"/><line x1="623.16" y1="334.51" x2="636.15" y2="342.32" stroke="#000" stroke-width="1.6"/><polygon points="640.44,344.89 634.49,344.12 636.96,340.00" fill="#000"/>
<rect x="582.60" y="359.34" width="65.90" height="65.16" fill="#D4EE2A"/><circle cx="615.30" cy="377.80" r="14.00" fill="url(#g37)" stroke="#262616" stroke-width="0.85"/><line x1="616.70" y1="377.80" x2="613.90" y2="377.80" stroke="#111" stroke-width="1.1"/><circle cx="598.70" cy="406.40" r="14.00" fill="url(#g38)" stroke="#262616" stroke-width="0.85"/><line x1="590.55" y1="408.43" x2="602.00" y2="405.58" stroke="#000" stroke-width="1.6"/><polygon points="606.85,404.37 602.09,408.03 600.93,403.37" fill="#000"/><circle cx="631.80" cy="406.40" r="14.00" fill="url(#g39)" stroke="#262616" stroke-width="0.85"/><line x1="623.65" y1="404.37" x2="635.10" y2="407.22" stroke="#000" stroke-width="1.6"/><polygon points="639.95,408.43 634.03,409.43 635.19,404.77" fill="#000"/>
<rect x="582.60" y="426.10" width="65.90" height="65.10" fill="#98E460"/><circle cx="615.30" cy="444.50" r="14.00" fill="url(#g40)" stroke="#262616" stroke-width="0.85"/><line x1="618.38" y1="444.50" x2="612.22" y2="444.50" stroke="#111" stroke-width="1.1"/><circle cx="598.70" cy="473.10" r="14.00" fill="url(#g41)" stroke="#262616" stroke-width="0.85"/><line x1="589.60" y1="473.10" x2="602.80" y2="473.10" stroke="#000" stroke-width="1.6"/><polygon points="607.80,473.10 602.30,475.50 602.30,470.70" fill="#000"/><circle cx="631.80" cy="473.10" r="14.00" fill="url(#g42)" stroke="#262616" stroke-width="0.85"/><line x1="622.70" y1="473.10" x2="635.90" y2="473.10" stroke="#000" stroke-width="1.6"/><polygon points="640.90,473.10 635.40,475.50 635.40,470.70" fill="#000"/>
<rect x="496.50" y="359.90" width="65.50" height="64.50" fill="#A8E858"/><circle cx="529.00" cy="377.15" r="14.00" fill="url(#g43)" stroke="#262616" stroke-width="0.85"/><line x1="520.18" y1="377.15" x2="532.82" y2="377.15" stroke="#000" stroke-width="1.6"/><polygon points="537.82,377.15 532.32,379.55 532.32,374.75" fill="#000"/><circle cx="512.40" cy="405.75" r="14.00" fill="url(#g44)" stroke="#262616" stroke-width="0.85"/><line x1="511.15" y1="415.89" x2="513.04" y2="400.57" stroke="#000" stroke-width="1.6"/><polygon points="513.65,395.61 515.36,401.36 510.59,400.77" fill="#000"/><circle cx="545.50" cy="405.75" r="14.00" fill="url(#g45)" stroke="#262616" stroke-width="0.85"/><line x1="544.08" y1="395.63" x2="546.23" y2="410.92" stroke="#000" stroke-width="1.6"/><polygon points="546.92,415.87 543.78,410.76 548.53,410.09" fill="#000"/>
<rect x="496.50" y="425.90" width="65.50" height="65.60" fill="#78E088"/><circle cx="529.00" cy="443.70" r="14.00" fill="url(#g46)" stroke="#262616" stroke-width="0.85"/><line x1="516.96" y1="443.70" x2="536.04" y2="443.70" stroke="#000" stroke-width="1.6"/><polygon points="541.04,443.70 535.54,446.10 535.54,441.30" fill="#000"/><circle cx="512.40" cy="472.30" r="14.00" fill="url(#g47)" stroke="#262616" stroke-width="0.85"/><line x1="514.71" y1="478.01" x2="511.97" y2="471.22" stroke="#000" stroke-width="1.6"/><polygon points="510.09,466.59 514.38,470.79 509.93,472.59" fill="#000"/><circle cx="545.50" cy="472.30" r="14.00" fill="url(#g48)" stroke="#262616" stroke-width="0.85"/><line x1="547.93" y1="467.10" x2="545.19" y2="472.97" stroke="#000" stroke-width="1.6"/><polygon points="543.07,477.50 543.86,471.80 546.94,473.24" fill="#000"/>
<rect x="405.8" y="21.4" width="74.1" height="472.8" fill="none" stroke="#1E9FDA" stroke-width="2" stroke-dasharray="5,3"/>
<rect x="491.4" y="356.5" width="73.5" height="137.5" fill="none" stroke="#D02020" stroke-width="2" stroke-dasharray="5,3"/>
<rect x="577.7" y="22.6" width="73.9" height="472.4" fill="none" stroke="#E9955A" stroke-width="2" stroke-dasharray="5,3"/>
<text x="436.8" y="514.9" font-size="12.5" text-anchor="middle" fill="#222">Electric</text>
<text x="436.8" y="529.6" font-size="12.5" text-anchor="middle" fill="#222">Fano Mode</text>
<text x="530.8" y="514.9" font-size="12.5" text-anchor="middle" fill="#222">Magnetic</text>
<text x="530.8" y="529.6" font-size="12.5" text-anchor="middle" fill="#222">Fano Mode</text>
<text x="621.3" y="514.9" font-size="12.5" text-anchor="middle" fill="#222">Dimer-like</text>
<text x="621.3" y="529.6" font-size="12.5" text-anchor="middle" fill="#222">Mode</text>
</svg>
</body></html>
